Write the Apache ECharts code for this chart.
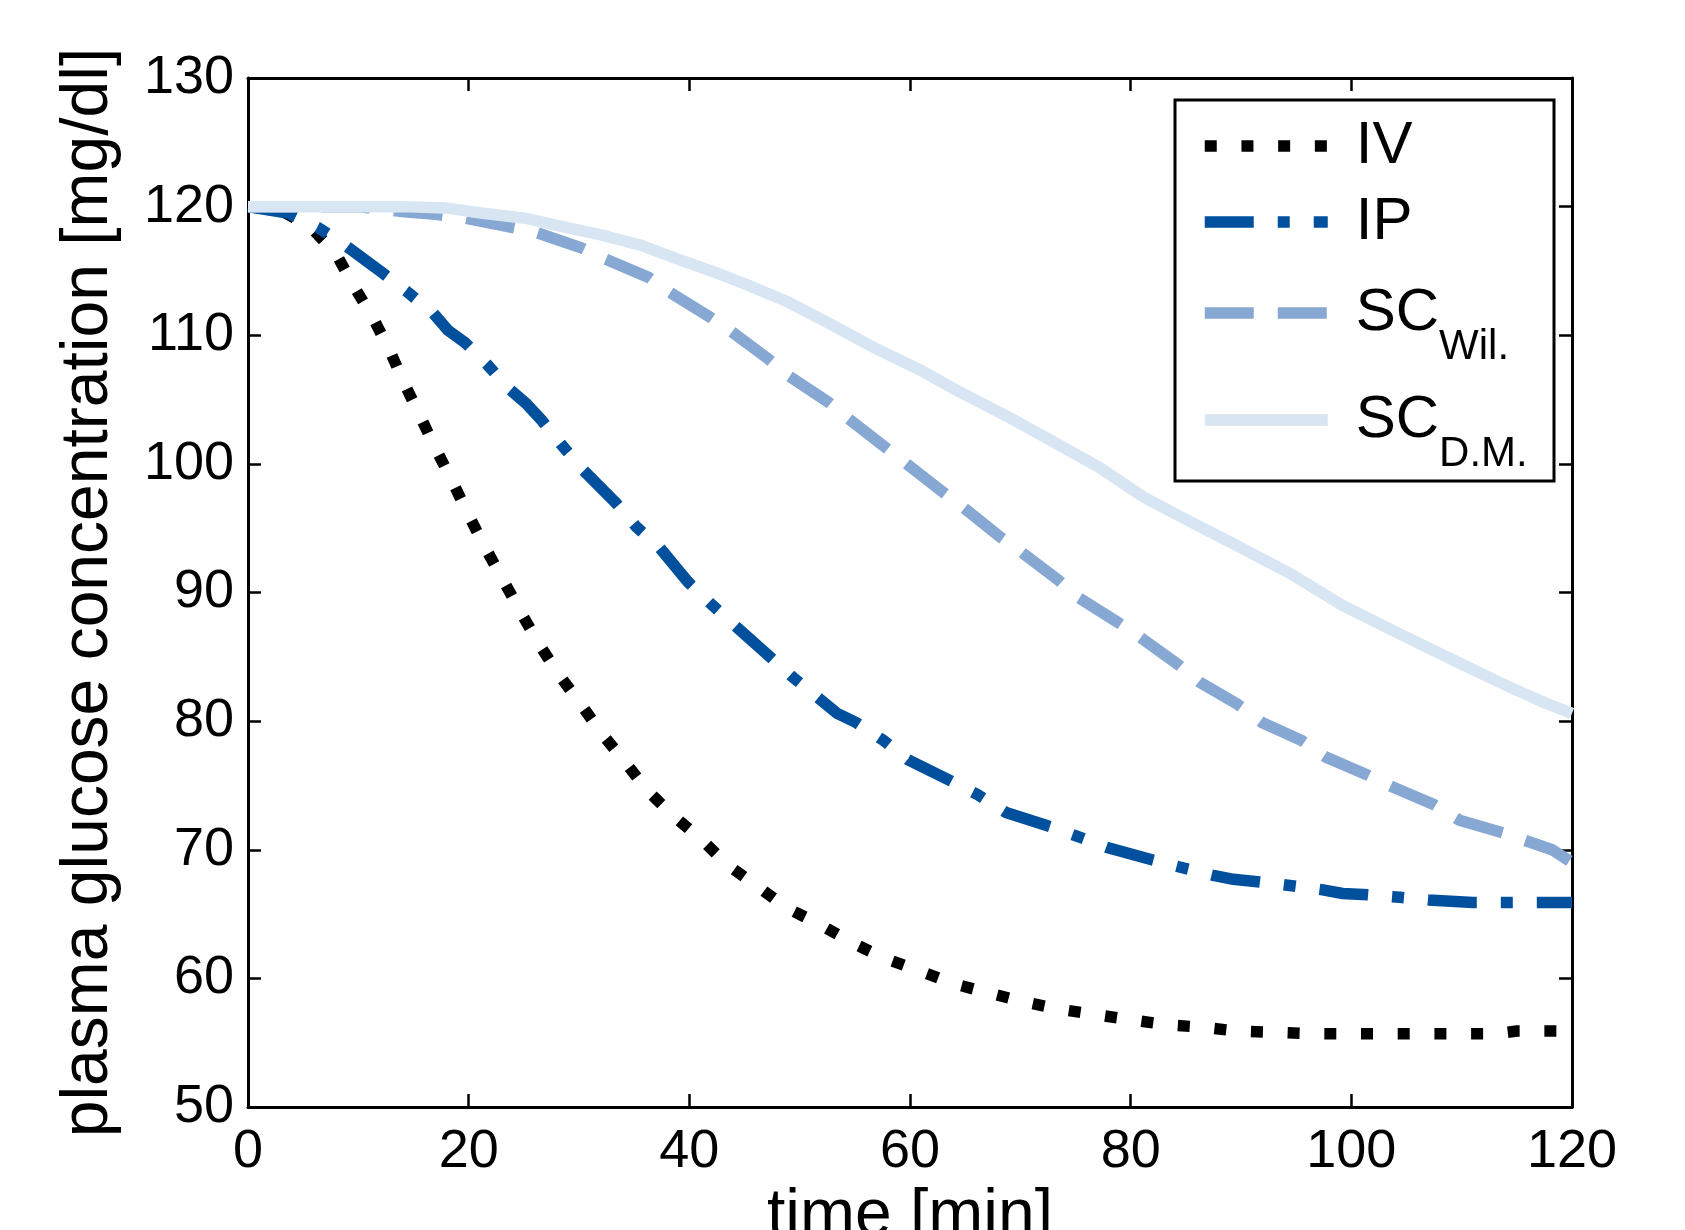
<!DOCTYPE html>
<html>
<head>
<meta charset="utf-8">
<script src="https://cdn.jsdelivr.net/npm/echarts@6/dist/echarts.min.js"></script>
<style>
html,body{margin:0;padding:0;background:#fff;}
#chart{width:1685px;height:1230px;}
</style>
</head>
<body>
<div id="chart"></div>
<script>
// ---- data ----
const xTicks = [0, 20, 40, 60, 80, 100, 120];
const yTicks = [50, 60, 70, 80, 90, 100, 110, 120, 130];

const ivTime   = [0, 3, 5.7, 8, 9.6, 11.3, 12.9, 14.2, 15.6, 17, 18.6, 20, 21.5, 23.1, 24.7, 26.3, 28.1, 30.1, 32, 34.2, 36.2, 38.6, 41.1, 43.5, 46.1, 48.8, 51.8, 54.7, 57.6, 60.8, 63.9, 67, 70.2, 73.5, 76.7, 79.9, 83.2, 86.5, 89.7, 93.1, 96.4, 100, 105, 110, 113, 115, 120];
const ivValues = [120, 119.7, 118.4, 116.3, 113.8, 111.4, 108.7, 106.2, 103.7, 101.2, 98.5, 96, 93.5, 91, 88.5, 86.1, 83.7, 81.4, 79.1, 76.8, 74.6, 72.6, 70.8, 68.8, 67.2, 65.5, 64.2, 62.8, 61.6, 60.6, 59.6, 58.9, 58.2, 57.6, 57.2, 56.8, 56.4, 56.2, 55.9, 55.8, 55.7, 55.7, 55.7, 55.7, 55.7, 55.9, 55.9];

const ipTime   = [0, 3.6, 6.3, 8.8, 12.1, 14.4, 16.8, 18.1, 19.7, 21.7, 23.7, 25.2, 26.6, 28.4, 30.4, 33.3, 35.2, 37.3, 39.9, 42.1, 44.3, 47.3, 49.4, 51.7, 53.4, 55.1, 57.6, 59.8, 63.6, 66.1, 68.7, 72.7, 75.3, 77.8, 82, 84.7, 87.5, 89.3, 91.7, 94.6, 97.3, 99.2, 101.5, 104.4, 107, 111, 114, 117, 120];
const ipValues = [120, 119.5, 118.4, 117.0, 114.9, 113.4, 111.7, 110.4, 109.4, 107.7, 105.8, 104.7, 103.4, 101.5, 99.5, 97.0, 95.1, 93.5, 90.8, 89.0, 87.3, 85.0, 83.4, 81.8, 80.6, 79.9, 78.5, 77.0, 75.4, 74.3, 72.9, 71.8, 71.0, 70.2, 69.2, 68.6, 68.0, 67.7, 67.5, 67.2, 66.9, 66.6, 66.5, 66.3, 66.1, 65.9, 65.9, 65.9, 65.9];

const wilTime   = [0, 10, 14.2, 17, 19.7, 23.8, 26.1, 30.2, 32.2, 36.3, 38.1, 41.9, 43.8, 47.1, 48.9, 52.6, 54.3, 57.9, 59.4, 63, 64.7, 68.2, 70, 73.4, 75.1, 78.8, 80.9, 84.3, 86.3, 89.7, 91.9, 95.5, 97.7, 101.5, 103.7, 107.5, 109.8, 113.8, 118.2, 120];
const wilValues = [120, 120, 119.6, 119.4, 119.1, 118.4, 118.0, 116.8, 116.0, 114.5, 113.4, 111.4, 110.3, 108.2, 106.9, 104.8, 103.6, 101.2, 100.2, 97.8, 96.7, 94.3, 93.2, 91.0, 89.7, 87.7, 86.5, 84.4, 83.0, 81.3, 79.9, 78.5, 77.2, 75.8, 74.9, 73.5, 72.3, 71.3, 70.0, 69.0];

const dmTime   = [0, 14, 17.9, 21.1, 25.1, 28.7, 32, 35.6, 38.7, 42.3, 45.3, 48.9, 52.5, 56.6, 60.9, 64.5, 68.8, 72.4, 77.2, 81.2, 85.2, 89.5, 94.4, 99.2, 104.1, 109.6, 114.2, 117.6, 120];
const dmValues = [120, 120, 119.9, 119.5, 119.1, 118.4, 117.8, 117.0, 116.0, 114.9, 113.9, 112.6, 111.0, 109.1, 107.3, 105.6, 103.7, 102.0, 99.7, 97.4, 95.6, 93.7, 91.5, 89.0, 86.9, 84.6, 82.7, 81.4, 80.6];

const seriesNames = ['IV', 'IP', 'SCWil', 'SCDM'];

// ---- chart ----
const FONT = "'Liberation Sans', Arial, Helvetica, sans-serif";
function pairs(t, v) { return t.map((x, i) => [x, v[i]]); }

const styles = {
  IV:    { color: '#000000', dash: [12, 24.7] },
  IP:    { color: '#00509e', dash: [49, 24, 12, 24] },
  SCWil: { color: '#86a8d2', dash: [49, 24] },
  SCDM:  { color: '#d8e6f3', dash: 'solid' }
};
const LW = 11.5;

function axisCommon(show) {
  return {
    axisLine: { show: true, onZero: false, lineStyle: { color: '#000', width: 3 } },
    axisTick: { show: true, inside: true, length: 13, lineStyle: { color: '#000', width: 2.5 } },
    splitLine: { show: false },
    axisLabel: { show: show, color: '#000', fontSize: 54, fontFamily: FONT }
  };
}

const chart = echarts.init(document.getElementById('chart'), null, { renderer: 'canvas' });

const legendRich = {
  m: { fontSize: 60, lineHeight: 60, fontFamily: FONT, color: '#000', padding: [0, 0, 0, 23] },
  s: { fontSize: 42, lineHeight: 42, fontFamily: FONT, color: '#000', padding: [68, 0, 0, 0] }
};
const legendLabels = {
  IV: '{m|IV}', IP: '{m|IP}', SCWil: '{m|SC}{s|Wil.}', SCDM: '{m|SC}{s|D.M.}'
};
const legendCenters = { IV: 146, IP: 222, SCWil: 313, SCDM: 420 };

function makeLegend(name) {
  const tall = name.indexOf('SC') === 0;
  return {
    data: [name],
    left: 1199,
    top: legendCenters[name] - (tall ? 55 : 30),
    orient: 'vertical',
    itemWidth: 123,
    itemHeight: 60,
    padding: 0,
    selectedMode: false,
    itemStyle: { opacity: 0, color: 'rgba(0,0,0,0)', borderWidth: 0 },
    lineStyle: { width: LW, type: styles[name].dash, cap: 'butt', color: styles[name].color },
    formatter: () => legendLabels[name],
    textStyle: { rich: legendRich, color: '#000' },
    z: 10
  };
}

const seriesData = {
  IV: pairs(ivTime, ivValues),
  IP: pairs(ipTime, ipValues),
  SCWil: pairs(wilTime, wilValues),
  SCDM: pairs(dmTime, dmValues)
};

const option = {
  animation: false,
  backgroundColor: '#ffffff',
  grid: { left: 248, top: 78, width: 1324, height: 1029, containLabel: false, outerBoundsMode: 'none' },
  xAxis: [
    Object.assign({
      type: 'value', min: 0, max: 120, interval: 20, position: 'bottom',
      name: 'time [min]', nameLocation: 'middle', nameGap: 77,
      nameTextStyle: { fontSize: 66, color: '#000', fontFamily: FONT }
    }, axisCommon(true), { axisLabel: { show: true, color: '#000', fontSize: 54, fontFamily: FONT, margin: 18 } }),
    Object.assign({ type: 'value', min: 0, max: 120, interval: 20, position: 'top' }, axisCommon(false))
  ],
  yAxis: [
    Object.assign({
      type: 'value', min: 50, max: 130, interval: 10, position: 'left',
      name: 'plasma glucose concentration [mg/dl]', nameLocation: 'middle', nameGap: 126,
      nameTextStyle: { fontSize: 66, color: '#000', fontFamily: FONT }
    }, axisCommon(true), { axisLabel: { show: true, color: '#000', fontSize: 54, fontFamily: FONT, margin: 14 } }),
    Object.assign({ type: 'value', min: 50, max: 130, interval: 10, position: 'right' }, axisCommon(false))
  ],
  legend: seriesNames.map(makeLegend),
  graphic: [{
    type: 'rect', z: 5,
    shape: { x: 1175, y: 100, width: 379, height: 381 },
    style: { fill: '#ffffff', stroke: '#000000', lineWidth: 3 }
  }],
  series: seriesNames.map(name => ({
    type: 'line',
    name: name,
    xAxisIndex: 0, yAxisIndex: 0,
    data: seriesData[name],
    showSymbol: false,
    symbol: 'none',
    clip: true,
    itemStyle: { color: styles[name].color },
    lineStyle: { color: styles[name].color, width: LW, type: styles[name].dash, cap: 'butt', join: 'miter' },
    emphasis: { disabled: true }
  }))
};
chart.setOption(option);
</script>
</body>
</html>
